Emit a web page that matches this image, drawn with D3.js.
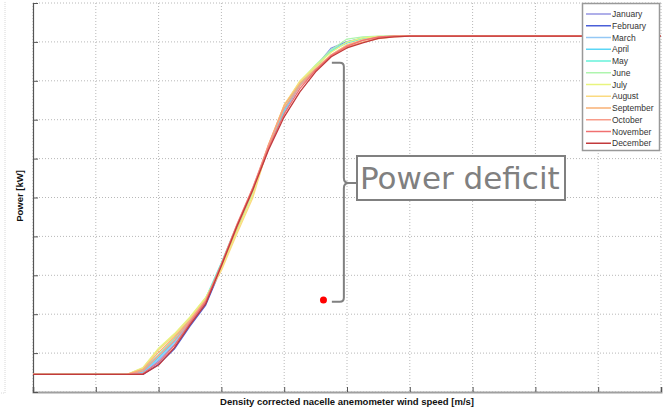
<!DOCTYPE html>
<html>
<head>
<meta charset="utf-8">
<script src="https://cdnjs.cloudflare.com/ajax/libs/d3/7.8.5/d3.min.js"></script>
<style>
  body { margin: 0; background: #fff; }
  #chart { width: 665px; height: 412px; }
</style>
</head>
<body>
<div id="chart"></div>
<script>
// wind speed bins [m/s]
var windSpeed = [0, 3, 3.5, 4, 4.5, 5, 5.5, 6, 6.5, 7, 7.5, 8, 8.5, 9, 9.5, 10, 10.5, 11, 11.5, 12, 20];

// monthly power curves [kW]
var january   = [0, 0, 8, 80, 175, 300, 425, 645, 875, 1100, 1345, 1560, 1715, 1820, 1930, 1968, 1988, 1996, 2000, 2000, 2000];
var february  = [0, 0, 0, 60, 150, 285, 410, 630, 860, 1085, 1335, 1555, 1710, 1815, 1925, 1965, 1985, 1995, 2000, 2000, 2000];
var march     = [0, 0, 10, 90, 185, 310, 435, 650, 880, 1095, 1340, 1555, 1710, 1815, 1925, 1962, 1985, 1995, 2000, 2000, 2000];
var april     = [0, 0, 15, 100, 195, 320, 440, 655, 880, 1090, 1345, 1565, 1715, 1820, 1915, 1960, 1985, 1995, 2000, 2000, 2000];
var may       = [0, 0, 25, 115, 210, 330, 450, 660, 885, 1090, 1350, 1570, 1720, 1825, 1910, 1965, 1988, 1997, 2000, 2000, 2000];
var june      = [0, 0, 38, 150, 235, 335, 452, 630, 866, 1079, 1345, 1588, 1730, 1830, 1920, 1983, 1996, 2000, 2000, 2000, 2000];
var july      = [0, 0, 40, 155, 240, 340, 455, 625, 850, 1060, 1350, 1590, 1735, 1825, 1905, 1965, 1990, 1998, 2000, 2000, 2000];
var august    = [0, 0, 35, 145, 230, 330, 445, 615, 835, 1045, 1355, 1595, 1730, 1815, 1890, 1950, 1980, 1993, 2000, 2000, 2000];
var september = [0, 0, 30, 130, 220, 320, 440, 640, 870, 1090, 1360, 1590, 1720, 1805, 1885, 1935, 1965, 1985, 1996, 2000, 2000];
var october   = [0, 0, 20, 110, 200, 315, 435, 655, 890, 1105, 1355, 1575, 1705, 1800, 1890, 1945, 1975, 1992, 2000, 2000, 2000];
var november  = [0, 0, 5, 70, 170, 305, 430, 650, 885, 1100, 1340, 1540, 1690, 1800, 1885, 1940, 1975, 1995, 2000, 2000, 2000];
var december  = [0, 0, 0, 56, 157, 293, 417, 642, 878, 1091, 1327, 1523, 1670, 1789, 1878, 1930, 1960, 1987, 1996, 2000, 2000];

var monthNames = ["January", "February", "March", "April", "May", "June", "July",
                  "August", "September", "October", "November", "December"];
var monthValues = [january, february, march, april, may, june, july,
                   august, september, october, november, december];
var monthColors = ["#9494e2", "#4a5fd8", "#94c8f5", "#5ad6f6", "#66f2da", "#aef5ae", "#e8f47e",
                   "#fbda80", "#f8b074", "#f89c8a", "#f07070", "#c23a3c"];

// axis ticks (no tick labels shown in the reference)
var xTicks = d3.range(0, 20.001, 2);
var yTicks = d3.range(-104, 2197, 230);

// annotation anchors (data units)
var deficitTop = 1842, deficitBottom = 429, deficitWs = 9.9;
var redPoint = {ws: 9.25, p: 440};

var svg = d3.select("#chart").append("svg")
    .attr("width", 665)
    .attr("height", 412)
    .style("font-family", "'Liberation Sans', Arial, sans-serif");

var x = d3.scaleLinear().domain([0, 20]).range([33, 661]);
var y = d3.scaleLinear().domain([-104, 2196]).range([392, 3]);

// faint leftover frame at the very left
svg.append("path")
    .attr("d", "M5,2 V393 H0")
    .attr("fill", "none")
    .attr("stroke", "#d8d8d8")
    .attr("stroke-dasharray", "1,1");

// grid
svg.append("g").selectAll("line").data(xTicks).enter().append("line")
    .attr("x1", function(d) { return x(d); })
    .attr("x2", function(d) { return x(d); })
    .attr("y1", 3).attr("y2", 392)
    .attr("stroke", "#b8b8b8")
    .attr("stroke-dasharray", "1,2");

svg.append("g").selectAll("line").data(yTicks).enter().append("line")
    .attr("x1", 33).attr("x2", 661)
    .attr("y1", function(d) { return y(d); })
    .attr("y2", function(d) { return y(d); })
    .attr("stroke", "#b8b8b8")
    .attr("stroke-dasharray", "1,2");

// axes
var xAxis = d3.axisBottom(x).tickValues(xTicks).tickSize(-5).tickFormat("");
var gx = svg.append("g").attr("transform", "translate(0,392)").call(xAxis);
gx.select(".domain").attr("stroke", "#a0a0a0").attr("stroke-width", 2);
gx.selectAll(".tick line").attr("stroke", "#555");

var yAxis = d3.axisLeft(y).tickValues(yTicks).tickSize(-5).tickFormat("");
var gy = svg.append("g").attr("transform", "translate(33,0)").call(yAxis);
gy.select(".domain").attr("stroke", "#555").attr("stroke-width", 1.2);
gy.selectAll(".tick line").attr("stroke", "#555");

// power curves
var line = d3.line()
    .x(function(d, i) { return x(windSpeed[i]); })
    .y(function(d) { return y(d); });

svg.append("g").selectAll("path").data(monthValues).enter().append("path")
    .attr("d", line)
    .attr("fill", "none")
    .attr("stroke", function(d, i) { return monthColors[i]; })
    .attr("stroke-width", 1.3)
    .attr("stroke-linejoin", "round");

// axis labels
svg.append("text")
    .attr("x", 347).attr("y", 405)
    .attr("text-anchor", "middle")
    .attr("font-size", 9.5)
    .attr("font-weight", "bold")
    .attr("fill", "#111")
    .text("Density corrected nacelle anemometer wind speed [m/s]");

svg.append("text")
    .attr("transform", "translate(23,196) rotate(-90)")
    .attr("text-anchor", "middle")
    .attr("font-size", 9.5)
    .attr("font-weight", "bold")
    .attr("fill", "#111")
    .text("Power [kW]");

// legend
var legend = svg.append("g");
legend.append("rect")
    .attr("x", 582.5).attr("y", 3.5)
    .attr("width", 77).attr("height", 147)
    .attr("fill", "#fff")
    .attr("stroke", "#999")
    .attr("stroke-width", 1.5);

var item = legend.selectAll("g.item").data(monthNames).enter().append("g")
    .attr("class", "item")
    .attr("transform", function(d, i) { return "translate(586," + (14 + i * 11.75) + ")"; });
item.append("line")
    .attr("x1", 0).attr("x2", 25)
    .attr("stroke", function(d, i) { return monthColors[i]; })
    .attr("stroke-width", 1.5);
item.append("text")
    .attr("x", 26).attr("y", 3)
    .attr("font-size", 8.5)
    .attr("fill", "#333")
    .text(function(d) { return d; });

// power deficit annotation
var bx = x(deficitWs), bt = y(deficitTop), bb = y(deficitBottom);
var bm = 183;
svg.append("path")
    .attr("d", "M" + (bx - 12) + "," + bt + " H" + (bx - 4) + " Q" + bx + "," + bt + " " + bx + "," + (bt + 4) +
               " V" + (bm - 5) + " Q" + bx + "," + bm + " " + (bx + 5) + "," + bm + " H" + (bx + 13) +
               " M" + (bx + 5) + "," + bm + " Q" + bx + "," + bm + " " + bx + "," + (bm + 5) +
               " V" + (bb - 4) + " Q" + bx + "," + bb + " " + (bx - 4) + "," + bb + " H" + (bx - 12))
    .attr("fill", "none")
    .attr("stroke", "#808080")
    .attr("stroke-width", 2);

svg.append("rect")
    .attr("x", 357).attr("y", 156)
    .attr("width", 208).attr("height", 44)
    .attr("fill", "#fff")
    .attr("stroke", "#808080")
    .attr("stroke-width", 2);

svg.append("text")
    .attr("x", 360).attr("y", 189)
    .attr("font-family", "'DejaVu Sans', Verdana, sans-serif")
    .attr("font-size", 31)
    .attr("fill", "#808080")
    .text("Power deficit");

svg.append("circle")
    .attr("cx", x(redPoint.ws)).attr("cy", y(redPoint.p))
    .attr("r", 3.5)
    .attr("fill", "#ff0000");
</script>
</body>
</html>
